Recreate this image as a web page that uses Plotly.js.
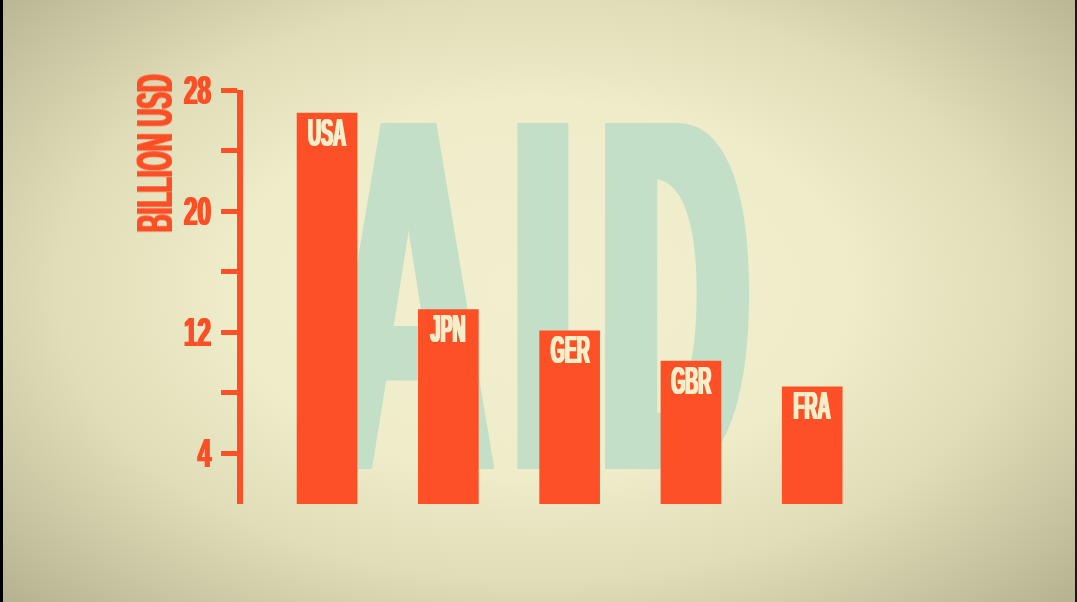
<!DOCTYPE html>
<html>
<head>
<meta charset="utf-8">
<script src="https://cdn.plot.ly/plotly-3.0.1.min.js"></script>
<style>
  html, body { margin:0; padding:0; }
  body {
    width:1077px; height:602px; overflow:hidden; position:relative;
    background: radial-gradient(ellipse 72% 78% at 50% 48%, #f1efce 0%, #eeecc9 40%, #e0ddb8 62%, #c8c4a1 82%, #b1ac8a 100%);
  }
  #bg, #chart { position:absolute; left:0; top:0; width:1077px; height:602px; }
  .edgeL { position:absolute; left:0; top:0; width:3px; height:602px; background:#000; }
  .edgeR { position:absolute; right:0; top:0; width:2px; height:602px; background:#1a1a14; }
</style>
</head>
<body>
<svg width="0" height="0" style="position:absolute">
  <defs id="fdefs"></defs>
</svg>
<div id="bg"></div>
<div id="chart"></div>
<div class="edgeL"></div>
<div class="edgeR"></div>
<script>
// ---- data ----
const categories = ['USA', 'JPN', 'GER', 'GBR', 'FRA'];
const aidBillionUSD = [26.5, 13.5, 12.1, 10.1, 8.4];
const tickValues = [4, 8, 12, 16, 20, 24, 28];
const tickLabels = ['4', '', '12', '', '20', '', '28'];
const axisTitle = 'BILLION USD';
const watermarkLetters = ['A', 'I', 'D'];

// ---- style ----
const FONT = '"Liberation Sans Narrow", "Liberation Sans", Arial, sans-serif';
const ORANGE = '#fd5026';
const CREAM = '#f3efcb';
const TEAL = '#c3dfc7';
const W = 1077, H = 602;
// watermark letter placement (screen px centre), squash factor relative to base, dilation px
const wmCentre = [408, 542.5, 674];
const wmSquash = [1.013, 1.0, 0.853];
const wmDilate = [8, 9, 11.5];

// background watermark plot
const bgLayout = {
  width: W, height: H,
  margin: {l:0, r:0, t:0, b:0, pad:0},
  paper_bgcolor: 'rgba(0,0,0,0)', plot_bgcolor: 'rgba(0,0,0,0)',
  xaxis: {visible:false}, yaxis: {visible:false},
  showlegend: false,
  annotations: watermarkLetters.map((ch, i) => ({
    text: ch, xref:'paper', yref:'paper', x: wmCentre[i] / W, y: 1 - 295 / H,
    xanchor:'center', yanchor:'middle', showarrow:false,
    font: {family: FONT, size: 503, color: TEAL, weight: 'bold'}
  }))
};

// main chart
const L = 243, T = 90, B = 98, R = 192;
const trace = {
  type: 'bar', x: categories, y: aidBillionUSD,
  marker: {color: ORANGE, line: {width: 0}},
  hoverinfo: 'none'
};
const labelAnns = categories.map((c, i) => ({
  text: c, x: c, y: aidBillionUSD[i], xref:'x', yref:'y',
  xanchor:'center', yanchor:'top', yshift: 3, showarrow:false,
  font: {family: FONT, size: 38, color: CREAM, weight: 'bold'}
}));
const layout = {
  width: W, height: H,
  margin: {l:L, r:R, t:T, b:B, pad:0},
  paper_bgcolor: 'rgba(0,0,0,0)', plot_bgcolor: 'rgba(0,0,0,0)',
  bargap: 0.5, showlegend: false,
  xaxis: {type:'category', range:[-0.693, 4.6], visible:false, fixedrange:true},
  yaxis: {
    range: [0.628, 28], showline:true, linecolor: ORANGE, linewidth: 6,
    ticks:'outside', ticklen: 16, tickwidth: 5, tickcolor: ORANGE,
    tickmode:'array', tickvals: tickValues, ticktext: tickLabels,
    ticklabelstandoff: 2,
    tickfont: {family: FONT, size: 40, color: ORANGE, weight: 'bold'},
    showgrid:false, zeroline:false, fixedrange:true
  },
  annotations: [{
    text: axisTitle, xref:'paper', yref:'paper',
    x: (155 - L) / (W - L - R), y: 1 - (154 - T) / (H - T - B),
    xanchor:'center', yanchor:'middle', textangle: -90, showarrow:false,
    font: {family: FONT, size: 50, color: ORANGE, weight: 'bold'}
  }].concat(labelAnns)
};
const config = {displayModeBar:false, staticPlot:true};

// condensed-look helpers: horizontally squash / embolden text elements (they stay real text)
const cv = document.createElement('canvas').getContext('2d');
function measure(str, size) { cv.font = 'bold ' + size + 'px ' + FONT; return cv.measureText(str).width; }
function squashEl(t, sx, anchor) {
  if (t.dataset.orig === undefined) t.dataset.orig = t.getAttribute('transform') || '';
  const bb = t.getBBox();
  const ax = anchor === 'end' ? bb.x + bb.width : bb.x + bb.width / 2;
  t.setAttribute('transform', (t.dataset.orig + ' matrix(' + sx + ',0,0,1,' + (ax * (1 - sx)) + ',0)').trim());
}
function makeFilter(id, rx) {
  const NS = 'http://www.w3.org/2000/svg';
  const f = document.createElementNS(NS, 'filter');
  f.setAttribute('id', id);
  f.setAttribute('x', '-30%'); f.setAttribute('y', '-10%');
  f.setAttribute('width', '160%'); f.setAttribute('height', '120%');
  const m = document.createElementNS(NS, 'feMorphology');
  m.setAttribute('operator', 'dilate');
  m.setAttribute('radius', rx.toFixed(2) + ' 0');
  f.appendChild(m);
  document.getElementById('fdefs').appendChild(f);
  return 'url(#' + id + ')';
}

Promise.all([
  Plotly.newPlot('bg', [], bgLayout, config),
  Plotly.newPlot('chart', [trace], layout, config)
]).then(() => {
  const baseWm = 395 / measure('AID', 503);
  const sxTitle = 158 / measure('BILLION USD', 50);
  const sxTick = 27 / measure('28', 40);
  const sxLab = 38 / measure('USA', 38);
  document.querySelectorAll('#bg .annotation-text').forEach((t, i) => {
    const sx = baseWm * wmSquash[i];
    squashEl(t, sx, 'middle');
    t.style.filter = makeFilter('wm' + i, wmDilate[i] / sx);
  });
  const fTitle = makeFilter('fTitle', 1.0 / sxTitle);
  const fLab = makeFilter('fLab', 0.8 / sxLab);
  const fTick = makeFilter('fTick', 0.8 / sxTick);
  document.querySelectorAll('#chart .annotation-text').forEach((t, i) => {
    squashEl(t, i === 0 ? sxTitle : sxLab, 'middle');
    t.style.filter = i === 0 ? fTitle : fLab;
  });
  document.querySelectorAll('#chart .ytick text').forEach(t => {
    squashEl(t, sxTick, 'end');
    t.style.filter = fTick;
  });
});
</script>
</body>
</html>
